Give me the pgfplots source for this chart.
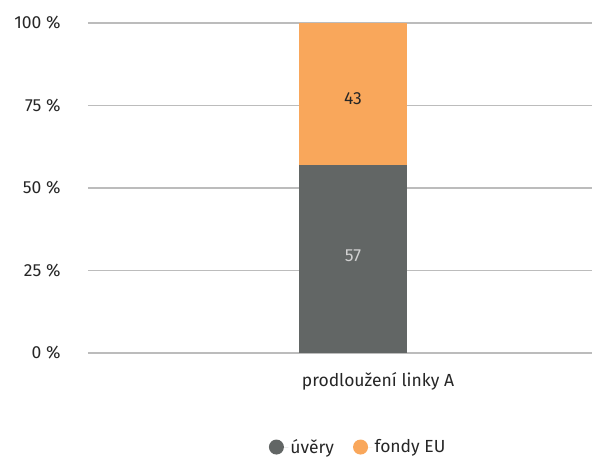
\documentclass[border=0pt]{standalone}
\usepackage{pgfplots}
\pgfplotsset{compat=1.18}
\usepackage{fontspec}
\setmainfont{Fira Sans}
\definecolor{cgray}{HTML}{626665}
\definecolor{corange}{HTML}{F9A75B}
\definecolor{cgrid}{HTML}{BCBCBC}
\definecolor{ctext}{HTML}{262626}
\begin{document}
\begin{tikzpicture}[font=\fontsize{17.5}{20}\selectfont]
\useasboundingbox (0,0) rectangle (592pt,457pt);
\begin{axis}[
  at={(88pt,104pt)}, anchor=south west,
  scale only axis, width=504pt, height=330pt,
  xmin=-265, xmax=239, ymin=0, ymax=100,
  ybar stacked, bar width=108pt,
  /pgf/number format/assume math mode=true,
  axis line style={draw=none}, major tick style={draw=none},
  ymajorgrids, grid style={cgrid, line width=1.9pt},
  ytick={0,25,50,75,100},
  yticklabel={\pgfmathprintnumber{\tick}~\%},
  yticklabel style={text=ctext, xshift=-24pt},
  xtick={0}, xticklabels={prodloužení linky A},
  xticklabel style={text=ctext, yshift=-16pt, xshift=25pt},
  legend style={at={(0.536,-0.285)}, anchor=center, draw=none, fill=none,
    legend columns=2, text=ctext, /tikz/every even column/.append style={column sep=17pt},
    legend cell align=left},
  legend image code/.code={\path (0pt,0pt) -- (12pt,0pt);\fill[#1] (0pt,0pt) circle (7.5pt);},
]
\addplot[fill=cgray, draw=none, nodes near coords,
  every node near coord/.append style={text=black!18, anchor=center, yshift=3pt}]
  coordinates {(0,57)};
\addplot[fill=corange, draw=none, nodes near coords,
  every node near coord/.append style={text=ctext, anchor=center, yshift=-5pt}]
  coordinates {(0,43)};
\legend{úvěry, fondy EU}
\end{axis}
\end{tikzpicture}
\end{document}
